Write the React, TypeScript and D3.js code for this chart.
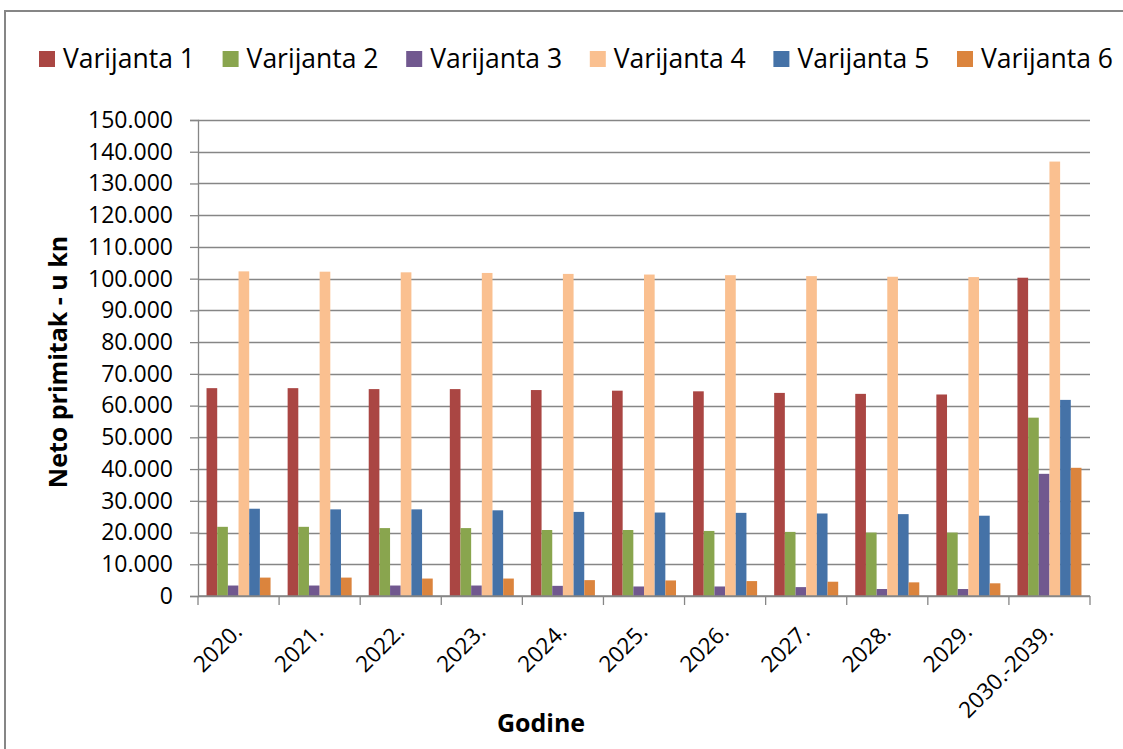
import React, { useEffect, useRef } from "react";
import * as d3 from "d3";

// kategorije (godine)
const years = [
  "2020.", "2021.", "2022.", "2023.", "2024.", "2025.",
  "2026.", "2027.", "2028.", "2029.", "2030.-2039.",
];

const seriesNames = [
  "Varijanta 1", "Varijanta 2", "Varijanta 3",
  "Varijanta 4", "Varijanta 5", "Varijanta 6",
];

// vrijednosti po varijantama (procjena iz slike)
const varijanta1 = [65500, 65500, 65200, 65200, 64900, 64700, 64500, 64000, 63700, 63500, 100300];
const varijanta2 = [21800, 21800, 21400, 21400, 20800, 20800, 20500, 20200, 20000, 20000, 56200];
const varijanta3 = [3300, 3300, 3300, 3300, 3200, 3000, 3000, 2800, 2200, 2200, 38500];
const varijanta4 = [102300, 102200, 102000, 101800, 101500, 101300, 101100, 100800, 100600, 100500, 136900];
const varijanta5 = [27500, 27300, 27300, 27000, 26500, 26300, 26200, 26000, 25800, 25300, 61800];
const varijanta6 = [5800, 5800, 5500, 5500, 5000, 4900, 4700, 4500, 4300, 4000, 40400];

const yTicks = [0, 10000, 20000, 30000, 40000, 50000, 60000, 70000, 80000, 90000, 100000, 110000, 120000, 130000, 140000, 150000];

const colors = ["#AA4643", "#89A54E", "#71588F", "#FAC090", "#4572A7", "#DB843D"];

const W = 1123;
const H = 749;
const FONT = "'Open Sans', 'Noto Sans', sans-serif";

const App = () => {
  const svgRef = useRef<SVGSVGElement | null>(null);

  useEffect(() => {
    const allSeries = [varijanta1, varijanta2, varijanta3, varijanta4, varijanta5, varijanta6];
    const margin = { top: 120, right: 33, bottom: 153, left: 198 };
    const chartW = W - margin.left - margin.right;
    const chartH = H - margin.top - margin.bottom;

    const svg = d3.select(svgRef.current);
    svg.selectAll("*").remove();

    // okvir grafikona
    svg.append("rect")
      .attr("x", 5).attr("y", 11)
      .attr("width", W + 50).attr("height", H + 50)
      .attr("fill", "white")
      .attr("stroke", "#868686")
      .attr("stroke-width", 2);

    const chart = svg.append("g")
      .attr("transform", `translate(${margin.left},${margin.top})`);

    const x0 = d3.scaleBand().domain(years).range([0, chartW]).paddingInner(0).paddingOuter(0);
    const x1 = d3.scaleBand()
      .domain(seriesNames)
      .range([0, x0.bandwidth()])
      .paddingOuter(0.8)
      .paddingInner(0);
    const y = d3.scaleLinear().domain([0, 150000]).range([chartH, 0]);

    // mreža
    chart.append("g")
      .selectAll("line")
      .data(yTicks)
      .enter()
      .append("line")
      .attr("x1", 0).attr("x2", chartW)
      .attr("y1", (d) => Math.round(y(d)) + 0.5)
      .attr("y2", (d) => Math.round(y(d)) + 0.5)
      .attr("stroke", "#868686")
      .attr("stroke-width", 1.3);

    // stupci
    const groups = chart.selectAll("g.grp")
      .data(years)
      .enter()
      .append("g")
      .attr("class", "grp")
      .attr("transform", (d) => `translate(${x0(d)},0)`);

    groups.selectAll("rect")
      .data((d, i) => seriesNames.map((s, k) => ({ s, v: allSeries[k][i], k })))
      .enter()
      .append("rect")
      .attr("x", (d) => x1(d.s)!)
      .attr("y", (d) => y(d.v))
      .attr("width", x1.bandwidth())
      .attr("height", (d) => chartH - y(d.v))
      .attr("fill", (d) => colors[d.k]);

    // os Y
    const yAxis = chart.append("g")
      .call(d3.axisLeft(y).tickValues(yTicks).tickSize(8).tickPadding(17)
        .tickFormat((d) => d3.format(",")(d as number).replace(/,/g, ".")));
    yAxis.select(".domain").attr("stroke", "#868686").attr("stroke-width", 1.3);
    yAxis.selectAll(".tick line").attr("stroke", "#868686").attr("stroke-width", 1.3);
    yAxis.selectAll("text")
      .style("font-family", FONT)
      .style("font-size", "23px")
      .attr("fill", "#000");

    // os X
    const xAxis = chart.append("g")
      .attr("transform", `translate(0,${chartH})`);
    xAxis.append("line")
      .attr("x1", 0).attr("x2", chartW)
      .attr("y1", 0).attr("y2", 0)
      .attr("stroke", "#868686").attr("stroke-width", 1.5);
    xAxis.selectAll("line.tk")
      .data(d3.range(years.length + 1))
      .enter()
      .append("line")
      .attr("class", "tk")
      .attr("x1", (i) => i * x0.step()).attr("x2", (i) => i * x0.step())
      .attr("y1", 0).attr("y2", 9)
      .attr("stroke", "#868686").attr("stroke-width", 1.3);
    xAxis.selectAll("text")
      .data(years)
      .enter()
      .append("text")
      .attr("transform", (d) => `translate(${x0(d)! + x0.bandwidth() / 2 + 5},${37}) rotate(-45)`)
      .attr("text-anchor", "end")
      .style("font-family", FONT)
      .style("font-size", "22.5px")
      .attr("fill", "#000")
      .text((d) => d);

    // naslovi osi
    svg.append("text")
      .attr("x", 541).attr("y", 732)
      .attr("text-anchor", "middle")
      .style("font-family", FONT)
      .style("font-size", "25px")
      .style("font-weight", "700")
      .text("Godine");

    svg.append("text")
      .attr("transform", "translate(67,362) rotate(-90)")
      .attr("text-anchor", "middle")
      .style("font-family", FONT)
      .style("font-size", "25px")
      .style("font-weight", "700")
      .text("Neto primitak - u kn");

    // legenda
    const legend = svg.append("g").attr("transform", "translate(39,51)");
    const item = legend.selectAll("g")
      .data(seriesNames)
      .enter()
      .append("g")
      .attr("transform", (d, i) => `translate(${i * 183.6},0)`);
    item.append("rect")
      .attr("width", 16).attr("height", 16)
      .attr("fill", (d, i) => colors[i]);
    item.append("text")
      .attr("x", 24).attr("y", 17)
      .style("font-family", FONT)
      .style("font-size", "26.5px")
      .attr("fill", "#000")
      .text((d) => d);
  }, []);

  return (
    <svg
      ref={svgRef}
      width={W}
      height={H}
      style={{ position: "absolute", left: 0, top: 0, background: "white" }}
    />
  );
};

export default App;
